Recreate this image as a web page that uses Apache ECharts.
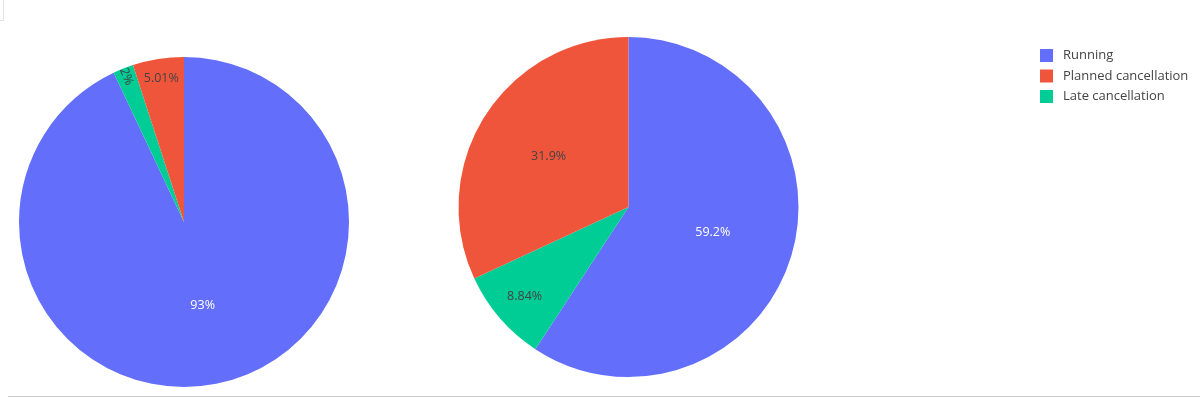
<!DOCTYPE html>
<html>
<head>
<meta charset="utf-8">
<script src="https://cdn.jsdelivr.net/npm/echarts@6/dist/echarts.min.js"></script>
<style>
  html, body { margin: 0; padding: 0; background: #fff; }
  #chart { width: 1200px; height: 398px; }
</style>
</head>
<body>
<div id="chart"></div>
<script>
// ---- data ----
const categories = ['Running', 'Late cancellation', 'Planned cancellation'];
const legendOrder = ['Running', 'Planned cancellation', 'Late cancellation'];
const leftValues = [93, 2, 5.01];
const rightValues = [59.2, 8.84, 31.9];

// ---- style / layout ----
const colors = { 'Running': '#636efa', 'Planned cancellation': '#EF553B', 'Late cancellation': '#00cc96' };
const labelColors = { 'Running': '#ffffff', 'Planned cancellation': '#444444', 'Late cancellation': '#444444' };
const FONT = '"Open Sans", "Noto Sans", sans-serif';

const pies = [
  { values: leftValues, center: [184, 222], r: 165, labelFrac: [0.5, 0.93, 0.86], radial: [false, true, false] },
  { values: rightValues, center: [628.5, 207], r: 170, labelFrac: [0.5, 0.79, 0.54], radial: [false, false, false] }
];

const series = [];
pies.forEach((p, pi) => {
  const data = categories.map((c, i) => ({ name: c, value: p.values[i], itemStyle: { color: colors[c] } }));
  series.push({
    type: 'pie',
    center: p.center,
    radius: [0, p.r],
    startAngle: 90,
    clockwise: true,
    silent: true,
    avoidLabelOverlap: false,
    label: { show: false },
    labelLine: { show: false },
    data: data
  });
  categories.forEach((c, i) => {
    const f = p.labelFrac[i];
    const r0 = Math.max(0, (2 * f - 1) * p.r);
    series.push({
      type: 'pie',
      center: p.center,
      radius: [r0, p.r],
      startAngle: 90,
      clockwise: true,
      silent: true,
      avoidLabelOverlap: false,
      legendHoverLink: false,
      itemStyle: { color: 'rgba(0,0,0,0)' },
      labelLine: { show: false },
      data: categories.map((cc, j) => ({
        name: cc,
        value: p.values[j],
        itemStyle: { color: 'rgba(0,0,0,0)' },
        label: {
          show: j === i,
          position: 'inside',
          rotate: p.radial[j] ? 'radial' : 0,
          formatter: (prm) => prm.value + '%',
          color: labelColors[cc],
          fontFamily: FONT,
          fontSize: 12.5
        }
      }))
    });
  });
});

const chart = echarts.init(document.getElementById('chart'), null, { renderer: 'canvas' });
chart.setOption({
  animation: false,
  backgroundColor: '#ffffff',
  color: categories.map(c => colors[c]),
  legend: {
    data: legendOrder.map(n => ({ name: n, itemStyle: { color: colors[n] } })),
    orient: 'vertical',
    left: 1035,
    top: 44,
    icon: 'rect',
    itemWidth: 13,
    itemHeight: 13,
    itemGap: 7.5,
    selectedMode: false,
    textStyle: { color: '#444', fontFamily: FONT, fontSize: 13, padding: [0, 0, 0, 5] }
  },
  graphic: [
    { type: 'line', shape: { x1: 8, y1: 396.5, x2: 1200, y2: 396.5 }, style: { stroke: '#cccccc', lineWidth: 1 }, silent: true },
    { type: 'polyline', shape: { points: [[3.5, 0], [3.5, 20.5], [0, 20.5]] }, style: { stroke: '#e4e4e4', lineWidth: 1, fill: null }, silent: true }
  ],
  series: series
});
</script>
</body>
</html>
